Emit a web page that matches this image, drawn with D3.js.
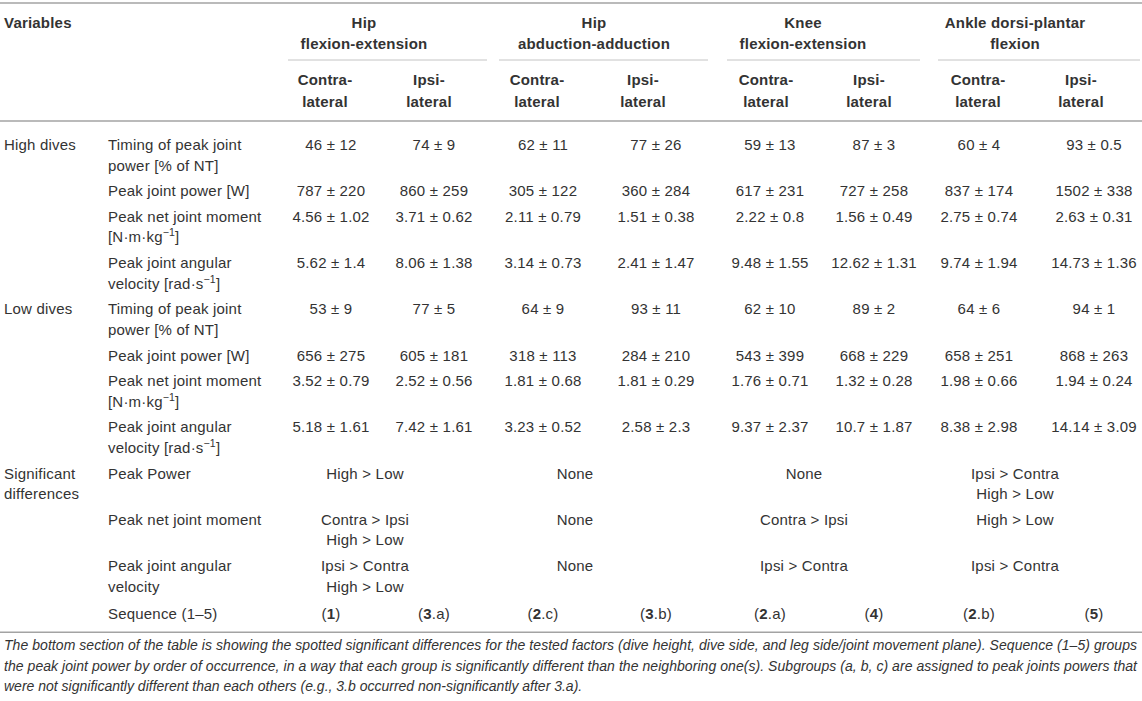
<!DOCTYPE html>
<html>
<head>
<meta charset="utf-8">
<script src="https://cdn.jsdelivr.net/npm/d3@7"></script>
<style>
  body { margin: 0; background: #fff; }
  svg text { font-family: "Liberation Sans", Arial, sans-serif; fill: #333; }
</style>
</head>
<body>
<svg id="table"></svg>
<script>
// table content
const joints = [["Hip", "flexion-extension"], ["Hip", "abduction-adduction"], ["Knee", "flexion-extension"], ["Ankle dorsi-plantar", "flexion"]];
const sides = [["Contra-", "lateral"], ["Ipsi-", "lateral"]];
const diveGroups = ["High dives", "Low dives"];
const variables = [
    ["Timing of peak joint", "power [% of NT]"],
    ["Peak joint power [W]"],
    ["Peak net joint moment", "[N·m·kg^{−1}]"],
    ["Peak joint angular", "velocity [rad·s^{−1}]"]
];
const highMean = [
    [46, 74, 62, 77, 59, 87, 60, 93],
    [787, 860, 305, 360, 617, 727, 837, 1502],
    [4.56, 3.71, 2.11, 1.51, 2.22, 1.56, 2.75, 2.63],
    [5.62, 8.06, 3.14, 2.41, 9.48, 12.62, 9.74, 14.73]
];
const highSd = [
    [12, 9, 11, 26, 13, 3, 4, 0.5],
    [220, 259, 122, 284, 231, 258, 174, 338],
    [1.02, 0.62, 0.79, 0.38, 0.8, 0.49, 0.74, 0.31],
    [1.4, 1.38, 0.73, 1.47, 1.55, 1.31, 1.94, 1.36]
];
const lowMean = [
    [53, 77, 64, 93, 62, 89, 64, 94],
    [656, 605, 318, 284, 543, 668, 658, 868],
    [3.52, 2.52, 1.81, 1.81, 1.76, 1.32, 1.98, 1.94],
    [5.18, 7.42, 3.23, 2.58, 9.37, 10.7, 8.38, 14.14]
];
const lowSd = [
    [9, 5, 9, 11, 10, 2, 6, 1],
    [275, 181, 113, 210, 399, 229, 251, 263],
    [0.79, 0.56, 0.68, 0.29, 0.71, 0.28, 0.66, 0.24],
    [1.61, 1.61, 0.52, 2.3, 2.37, 1.87, 2.98, 3.09]
];
const sigGroup = ["Significant", "differences"];
const sigLabels = [["Peak Power"], ["Peak net joint moment"], ["Peak joint angular", "velocity"]];
const sigByJoint = [
    [["High > Low"], ["Contra > Ipsi", "High > Low"], ["Ipsi > Contra", "High > Low"]],
    [["None"], ["None"], ["None"]],
    [["None"], ["Contra > Ipsi"], ["Ipsi > Contra"]],
    [["Ipsi > Contra", "High > Low"], ["High > Low"], ["Ipsi > Contra"]]
];
const seqLabel = "Sequence (1–5)";
const seqGroup = [1, 3, 2, 3, 2, 4, 2, 5];
const seqSub = ["", "a", "c", "b", "a", "", "b", ""];
const caption = [
    "The bottom section of the table is showing the spotted significant differences for the tested factors (dive height, dive side, and leg side/joint movement plane). Sequence (1–5) groups",
    "the peak joint power by order of occurrence, in a way that each group is significantly different than the neighboring one(s). Subgroups (a, b, c) are assigned to peak joints powers that",
    "were not significantly different than each others (e.g., 3.b occurred non-significantly after 3.a)."
];

// layout
const W = 1142, H = 701;
const FS = 15;
const lineStep = 20.5, rowStep = 25.7, firstBase = 150;

const svg = d3.select("#table").attr("width", W).attr("height", H);

const cols = d3.range(8);
const valueX = d3.scaleOrdinal().domain(cols).range([331, 434, 543, 656, 770, 874, 979, 1094]);
const sideX = d3.scaleOrdinal().domain(cols).range([325, 429, 537, 643, 766, 869, 978, 1081]);
const jointX = d3.scaleOrdinal().domain(d3.range(4)).range([364, 594, 803, 1015]);
const sigX = d3.scaleOrdinal().domain(d3.range(4)).range([365, 575, 804, 1015]);
const spanX = d3.scaleOrdinal().domain(d3.range(4)).range([[288, 487], [499, 708], [727, 920], [938, 1140]]);

// write a line, "^{..}" parts become superscripts
function addLine(g, str, x, y, anchor, weight) {
    const t = g.append("text")
        .attr("x", x).attr("y", y)
        .attr("text-anchor", anchor || "start")
        .attr("font-size", FS)
        .attr("font-weight", weight || "normal")
        .attr("letter-spacing", 0.2);
    const parts = str.split(/\^\{|\}/);
    parts.forEach((p, i) => {
        if (!p) return;
        const sp = t.append("tspan").text(p);
        if (i % 2 === 1) sp.attr("font-size", 10.5).attr("dy", -6);
        else if (i > 0) sp.attr("dy", 6);
    });
    return t;
}

function hline(x1, x2, y, color, w) {
    svg.append("line")
        .attr("x1", x1).attr("x2", x2).attr("y1", y).attr("y2", y)
        .attr("stroke", color).attr("stroke-width", w);
}

// header
hline(0, W, 3, "#a3a3a3", 1.5);
addLine(svg, "Variables", 4, 28, "start", "bold");
joints.forEach((j, i) => {
    j.forEach((line, k) => addLine(svg, line, jointX(i), 28 + k * 20.5, "middle", "bold"));
    const s = spanX(i);
    hline(s[0], s[1], 60, "#c4c4c4", 1);
});
cols.forEach(c => {
    sides[c % 2].forEach((line, k) => addLine(svg, line, sideX(c), 85 + k * 21.5, "middle", "bold"));
});
hline(0, W, 121, "#a3a3a3", 1.5);

// body rows
let y = firstBase;
const body = svg.append("g");

function nextRow(lines) {
    const start = y;
    y += (lines - 1) * lineStep + rowStep;
    return start;
}

[[highMean, highSd], [lowMean, lowSd]].forEach(([means, sds], gi) => {
    variables.forEach((v, vi) => {
        const yy = nextRow(v.length);
        if (vi === 0) addLine(body, diveGroups[gi], 4, yy);
        v.forEach((line, k) => addLine(body, line, 108, yy + k * lineStep));
        cols.forEach(c => addLine(body, means[vi][c] + " ± " + sds[vi][c], valueX(c), yy, "middle"));
    });
});

sigLabels.forEach((lab, si) => {
    const n = Math.max(lab.length, d3.max(sigByJoint, j => j[si].length), si === 0 ? sigGroup.length : 1);
    const yy = nextRow(n);
    if (si === 0) sigGroup.forEach((line, k) => addLine(body, line, 4, yy + k * lineStep));
    lab.forEach((line, k) => addLine(body, line, 108, yy + k * lineStep));
    sigByJoint.forEach((j, ji) => {
        j[si].forEach((line, k) => addLine(body, line, sigX(ji), yy + k * lineStep, "middle"));
    });
});

const ySeq = nextRow(1) + 2;
addLine(body, seqLabel, 108, ySeq);
cols.forEach(c => {
    const t = addLine(body, "(", valueX(c), ySeq, "middle");
    t.append("tspan").attr("font-weight", "bold").text(seqGroup[c]);
    t.append("tspan").text((seqSub[c] ? "." + seqSub[c] : "") + ")");
});

hline(0, W, ySeq + 13, "#a3a3a3", 1.5);

// caption
caption.forEach((line, k) => {
    const t = svg.append("text")
        .attr("x", 4).attr("y", ySeq + 31 + k * 20.5)
        .attr("font-size", 14)
        .attr("font-style", "italic")
        .text(line);
    if (k < caption.length - 1) t.attr("textLength", 1133).attr("lengthAdjust", "spacing");
});
</script>
</body>
</html>
